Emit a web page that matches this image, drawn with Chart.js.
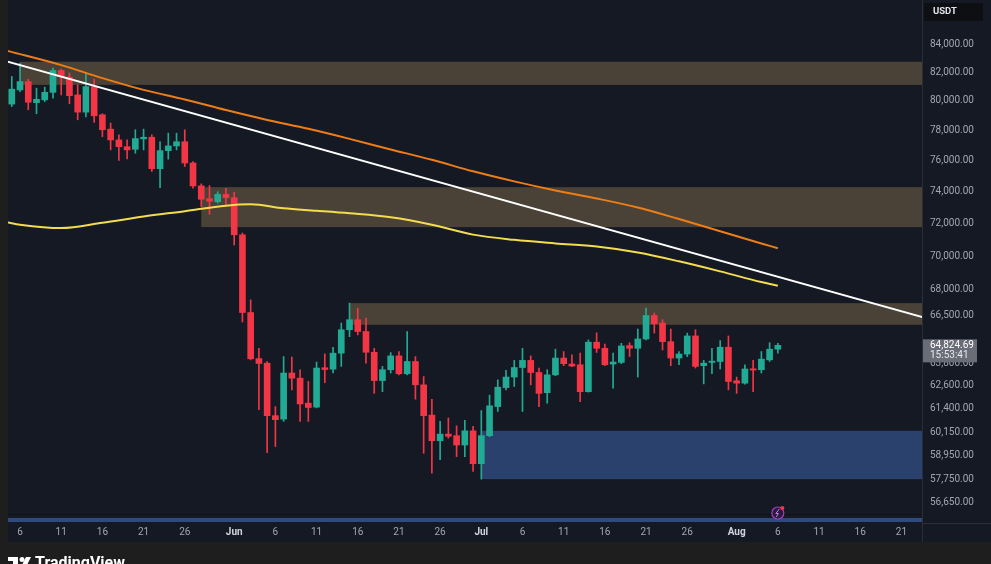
<!DOCTYPE html>
<html>
<head>
<meta charset="utf-8">
<script src="https://cdn.jsdelivr.net/npm/chart.js@4.4.1/dist/chart.umd.min.js"></script>
<style>
html, body { margin: 0; padding: 0; background: #1e1e1e; overflow: hidden; }
</style>
</head>
<body>
<canvas id="chart" width="991" height="564"></canvas>
<script>
// daily candles, first one is May 5 (day index -1, May 6 = 0)
const firstDay = -1;
const opens = [79770, 80750, 81330, 79870, 80060, 80580, 82110, 81640, 80400, 79220,
    80980, 79040, 78070, 77350, 76900, 76730, 77420, 77530, 75460, 76640,
    76950, 77230, 75830, 74350, 73540, 73350, 73810, 73600, 71290, 66680,
    64090, 63840, 61020, 60840, 63300, 63020, 61680, 61470, 63590, 63510,
    64390, 65700, 66270, 65600, 64440, 62890, 63480, 64240, 63260, 63930,
    62660, 61050, 59720, 60060, 59980, 59500, 60230, 58550, 59980, 61500,
    62510, 63080, 63600, 63990, 63330, 62240, 63200, 64120, 63790, 63750,
    62290, 65000, 64660, 63790, 63880, 64810, 64660, 65180, 66510, 66080,
    65030, 64120, 64340, 65350, 63700, 63880, 63930, 64720, 62880, 62750,
    63530, 63480, 64020, 64610];
const highs = [81690, 82630, 81500, 80870, 80940, 82280, 82210, 81930, 81100, 81930,
    81500, 79110, 78480, 77690, 77350, 78030, 78070, 77690, 77230, 77800,
    77800, 78030, 75930, 74480, 74370, 73980, 74200, 73940, 71400, 67410,
    64660, 63930, 61500, 64200, 64170, 63480, 62840, 63900, 64350, 64720,
    66080, 67220, 66930, 66360, 64660, 63660, 64420, 64480, 65600, 64200,
    63110, 61890, 60720, 60900, 60490, 60770, 60460, 61290, 62110, 62930,
    63440, 63990, 64660, 64240, 63570, 63480, 64610, 64480, 64300, 64390,
    65130, 65530, 64900, 64390, 64940, 64970, 65740, 66930, 66650, 66270,
    65740, 64480, 65510, 65700, 63990, 64660, 65090, 65350, 63080, 63750,
    63990, 64480, 64970, 64940];
const lows = [79600, 80630, 79380, 79110, 79940, 80170, 80400, 79790, 78700, 78890,
    78520, 77570, 76690, 75990, 76100, 76470, 76690, 75280, 74240, 76080,
    76690, 75600, 74200, 73040, 72560, 73260, 73090, 70670, 66140, 64020,
    61330, 59110, 59420, 60720, 62390, 60720, 60720, 61430, 62780, 63300,
    63660, 65310, 65410, 63840, 62200, 62290, 63300, 63200, 63200, 61890,
    59080, 58080, 58750, 59850, 58910, 58910, 58160, 57780, 59930, 61240,
    62390, 62570, 61240, 62660, 61500, 61680, 63150, 63700, 63640, 61760,
    62270, 64430, 63700, 62480, 63810, 64200, 63080, 65130, 65510, 64570,
    63700, 63750, 64200, 63570, 62710, 63260, 63520, 62390, 62200, 62700,
    62290, 63300, 63930, 64390];
const closes = [80800, 81330, 79900, 80100, 80580, 82110, 81690, 80350, 79220, 80980,
    78970, 78030, 77350, 76900, 76690, 77440, 77530, 75460, 76640, 76950,
    77230, 75830, 74350, 73500, 73380, 73810, 73600, 71290, 66680, 64080,
    63820, 61020, 60810, 63300, 63020, 61640, 61450, 63570, 63490, 64390,
    65700, 66270, 65600, 64440, 62890, 63480, 64240, 63260, 63930, 62660,
    61020, 59720, 60060, 59950, 59500, 60230, 58550, 59980, 61540, 62530,
    63080, 63600, 63990, 63330, 62200, 63200, 64120, 63810, 63680, 62290,
    65000, 64660, 63750, 63900, 64790, 64660, 65180, 66510, 66040, 65030,
    64120, 64340, 65350, 63660, 63840, 63950, 64720, 62840, 62750, 63520,
    63460, 64060, 64610, 64824.69];
const lastTime = '15:53:41';

// moving averages
const orangeDays = [-1.5, 5, 10, 15, 20, 25, 30, 35, 40, 45, 50, 55, 60, 65, 70, 75, 80, 85, 90, 92];
const orangeMa = [83500, 82490, 81570, 80750, 80090, 79360, 78690, 78090, 77420, 76720,
    76040, 75290, 74640, 74060, 73550, 72980, 72260, 71510, 70760, 70470];
const yellowDays = [-1.5, 0, 5, 10, 15, 20, 25, 28, 32, 36, 40, 45, 50, 55, 60, 65, 70, 75, 80, 85, 90, 92];
const yellowMa = [72050, 71910, 71700, 72030, 72420, 72750, 73100, 73180, 72930, 72780, 72620,
    72370, 71910, 71300, 70980, 70760, 70570, 70210, 69680, 69080, 68450, 68230];
const trendDays = [-2, 110];
const trendLine = [82820, 66360];

// supply / demand zones (start day, low, high)
const zoneStart = [0, 22, 40, 56];
const zoneLow = [81100, 71760, 65980, 57780];
const zoneHigh = [82730, 74270, 67220, 60230];

const tickDays = [0, 5, 10, 15, 20, 26, 31, 36, 41, 46, 51, 56, 61, 66, 71, 76, 81, 87, 92, 97, 102, 107];
const tickLabels = ['6', '11', '16', '21', '26', 'Jun', '6', '11', '16', '21', '26', 'Jul', '6', '11', '16', '21', '26', 'Aug', '6', '11', '16', '21'];
const priceTicks = [84000, 82000, 80000, 78000, 76000, 74000, 72000, 70000, 68000, 66500,
    63800, 62600, 61400, 60150, 58950, 57750, 56650];

const UP = '#22ab94';
const DOWN = '#f23645';
const FONT = 'Roboto, "Liberation Sans", sans-serif';
const zoneColors = ['#4a4236', '#4a4236', '#4a4236', '#2b416d'];

const fmt = v => Number(v).toLocaleString('en-US', {minimumFractionDigits: 2, maximumFractionDigits: 2});
const isMonth = c => !!(c && c.tick && /[A-Za-z]/.test(c.tick.label));

const bodies = opens.map((o, i) => ({x: firstDay + i, y: [o, closes[i]]}));
const wicks = lows.map((l, i) => ({x: firstDay + i, y: [l, highs[i]]}));
const candleColors = opens.map((o, i) => closes[i] >= o ? UP : DOWN);

function noPad(scale) {
    scale.paddingTop = 0;
    scale.paddingBottom = 0;
    scale.paddingLeft = 0;
    scale.paddingRight = 0;
}

const panel = {
    id: 'panel',
    beforeDraw(chart) {
        const {ctx, chartArea: a, width, height} = chart;
        ctx.save();
        ctx.fillStyle = '#1e1e1e';
        ctx.fillRect(0, 0, width, height);
        ctx.fillStyle = '#151924';
        ctx.fillRect(a.left, 0, width - a.left, a.bottom + 19);
        ctx.restore();
    },
    beforeDatasetsDraw(chart) {
        const {ctx, chartArea: a, scales: {x, y}} = chart;
        ctx.save();
        zoneStart.forEach((d, i) => {
            const x0 = x.getPixelForValue(d);
            const y0 = y.getPixelForValue(zoneHigh[i]);
            const y1 = y.getPixelForValue(zoneLow[i]);
            ctx.fillStyle = zoneColors[i];
            ctx.fillRect(x0, y0, a.right - x0, y1 - y0);
        });
        // bottom indicator strip
        ctx.fillStyle = '#0f121a';
        ctx.fillRect(a.left, a.bottom - 9, a.right - a.left, 1);
        ctx.fillStyle = '#2e4a7e';
        ctx.fillRect(a.left, a.bottom - 5, a.right - a.left, 4);
        ctx.restore();
    },
    afterDraw(chart) {
        const {ctx, chartArea: a, scales: {x, y}} = chart;
        ctx.save();
        // separators
        ctx.fillStyle = '#2a2e39';
        ctx.fillRect(a.right, 0, 1, a.bottom + 19);
        ctx.fillRect(a.right, a.bottom, chart.width - a.right, 1);

        // currency box
        ctx.fillStyle = '#0e0f13';
        ctx.fillRect(a.right + 2, 3, 59, 18);
        ctx.fillStyle = '#e0e3eb';
        ctx.font = 'bold 9.5px ' + FONT;
        ctx.textBaseline = 'middle';
        ctx.textAlign = 'left';
        ctx.fillText('USDT', a.right + 11, 12);

        // last price label
        const last = closes[closes.length - 1];
        const py = y.getPixelForValue(last);
        ctx.fillStyle = '#6a6d78';
        ctx.fillRect(a.right + 1, py - 6, 54, 23);
        ctx.fillStyle = '#ffffff';
        ctx.font = '10px ' + FONT;
        ctx.fillText(fmt(last), a.right + 8, py + 0.5);
        ctx.fillStyle = '#e6e8ee';
        ctx.fillText(lastTime, a.right + 8, py + 10);

        // event marker under the last candle
        const ex = x.getPixelForValue(firstDay + closes.length - 1);
        const ey = a.bottom - 10;
        ctx.beginPath();
        ctx.arc(ex, ey, 6, 0, Math.PI * 2);
        ctx.fillStyle = '#2a1b3d';
        ctx.fill();
        ctx.lineWidth = 1.2;
        ctx.strokeStyle = '#a43fc4';
        ctx.stroke();
        ctx.beginPath();
        ctx.moveTo(ex + 1.5, ey - 4);
        ctx.lineTo(ex - 2, ey + 0.5);
        ctx.lineTo(ex + 0.5, ey + 0.5);
        ctx.lineTo(ex - 1.5, ey + 4);
        ctx.strokeStyle = '#c77ee0';
        ctx.lineWidth = 1;
        ctx.stroke();
        ctx.beginPath();
        ctx.arc(ex + 4.5, ey - 5, 2, 0, Math.PI * 2);
        ctx.fillStyle = DOWN;
        ctx.fill();

        // footer logo
        ctx.fillStyle = '#ffffff';
        ctx.fillRect(8, 557, 10, 4);
        ctx.fillRect(13, 557, 5, 10);
        ctx.beginPath();
        ctx.arc(22, 559.5, 2.5, 0, Math.PI * 2);
        ctx.fill();
        ctx.beginPath();
        ctx.moveTo(26, 557);
        ctx.lineTo(31, 557);
        ctx.lineTo(26, 567);
        ctx.lineTo(21, 567);
        ctx.closePath();
        ctx.fill();
        ctx.font = 'bold 16px ' + FONT;
        ctx.textBaseline = 'top';
        ctx.fillText('TradingView', 35, 556);
        ctx.restore();
    }
};

new Chart(document.getElementById('chart'), {
    type: 'bar',
    data: {
        datasets: [{
            type: 'line',
            data: orangeDays.map((d, i) => ({x: d, y: orangeMa[i]})),
            borderColor: '#ee7d16',
            borderWidth: 2,
            pointRadius: 0,
            cubicInterpolationMode: 'monotone',
            order: 0
        }, {
            type: 'line',
            data: yellowDays.map((d, i) => ({x: d, y: yellowMa[i]})),
            borderColor: '#f3dc4e',
            borderWidth: 2,
            pointRadius: 0,
            cubicInterpolationMode: 'monotone',
            order: 0
        }, {
            type: 'line',
            data: trendDays.map((d, i) => ({x: d, y: trendLine[i]})),
            borderColor: '#ffffff',
            borderWidth: 2,
            pointRadius: 0,
            order: 0
        }, {
            data: bodies,
            backgroundColor: candleColors,
            barThickness: 6,
            minBarLength: 1,
            grouped: false,
            order: 1
        }, {
            data: wicks,
            backgroundColor: candleColors,
            barThickness: 1,
            grouped: false,
            order: 2
        }]
    },
    plugins: [panel],
    options: {
        responsive: false,
        animation: false,
        layout: {
            padding: {left: 8, right: 0, top: 0, bottom: 22}
        },
        plugins: {
            legend: {display: false},
            tooltip: {enabled: false}
        },
        scales: {
            x: {
                type: 'linear',
                min: -1.46,
                max: 109.5,
                offset: false,
                grid: {display: false, drawTicks: false, offset: false},
                border: {display: false},
                afterBuildTicks: s => { s.ticks = tickDays.map(v => ({value: v})); },
                afterFit: s => { s.height = 19; noPad(s); },
                ticks: {
                    autoSkip: false,
                    maxRotation: 0,
                    padding: 3,
                    callback: v => tickLabels[tickDays.indexOf(v)],
                    color: c => isMonth(c) ? '#d1d4dc' : '#a3a6af',
                    font: c => ({
                        family: FONT,
                        size: 10,
                        weight: isMonth(c) ? 'bold' : 'normal'
                    })
                }
            },
            y: {
                type: 'logarithmic',
                position: 'right',
                min: 55640,
                max: 87240,
                bounds: 'data',
                beginAtZero: false,
                grid: {display: false, drawTicks: false},
                border: {display: false},
                afterBuildTicks: s => { s.ticks = priceTicks.map(v => ({value: v})); },
                afterFit: s => { s.width = 69; noPad(s); },
                ticks: {
                    autoSkip: false,
                    padding: 8,
                    color: '#a3a6af',
                    font: {family: FONT, size: 10},
                    callback: v => fmt(v)
                }
            }
        }
    }
});
</script>
</body>
</html>
